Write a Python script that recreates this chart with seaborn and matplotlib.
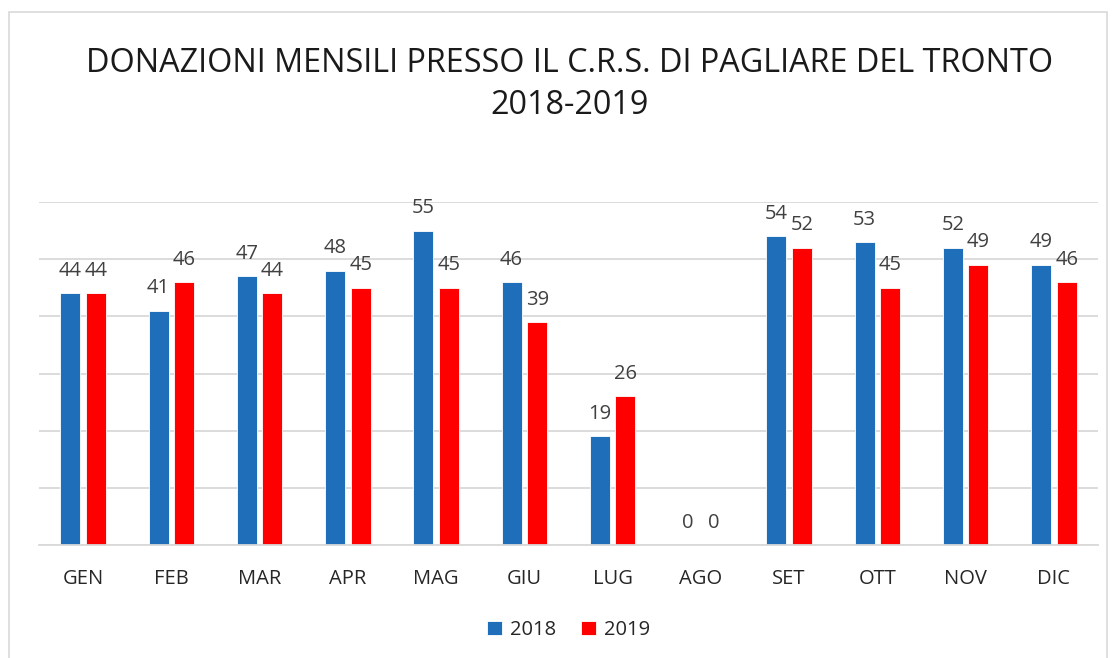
import numpy as np
import pandas as pd
import seaborn as sns
import matplotlib.pyplot as plt
from matplotlib.patches import Rectangle

# monthly donations
mesi = ['GEN', 'FEB', 'MAR', 'APR', 'MAG', 'GIU', 'LUG', 'AGO', 'SET', 'OTT', 'NOV', 'DIC']
don_2018 = [44, 41, 47, 48, 55, 46, 19, 0, 54, 53, 52, 49]
don_2019 = [44, 46, 44, 45, 45, 39, 26, 0, 52, 45, 49, 46]
anni = ['2018', '2019']
colori = ['#1F6EBA', '#FF0000']

df = pd.DataFrame({
    'mese': mesi * 2,
    'anno': [anni[0]] * len(mesi) + [anni[1]] * len(mesi),
    'donazioni': don_2018 + don_2019,
})

sns.set_theme(style='white')
plt.rcParams['font.family'] = ['Open Sans', 'DejaVu Sans']

fig = plt.figure(figsize=(11.13, 6.58), dpi=100)
ax = fig.add_axes([0.035, 0.1717, 0.9515, 0.5213])

sns.barplot(data=df, x='mese', y='donazioni', hue='anno', palette=colori,
            saturation=1, width=0.58, gap=0.22, edgecolor='white', linewidth=0.6,
            ax=ax, legend=True)

for cont in ax.containers:
    ax.bar_label(cont, padding=9, fontsize=14.5, color='#404040', clip_on=False)

ax.set_ylim(0, 60)
ax.set_xlim(-0.5, len(mesi) - 0.5)
ax.set_yticks(np.arange(0, 61, 10))
ax.set_yticklabels([])
ax.tick_params(axis='y', length=0)
ax.tick_params(axis='x', length=0, labelsize=14.5, labelcolor='#262626', pad=17)
ax.yaxis.grid(True, color='#D9D9D9', linewidth=1.3)
ax.set_axisbelow(True)
for s in ['top', 'right', 'left']:
    ax.spines[s].set_visible(False)
ax.spines['bottom'].set_color('#D9D9D9')
ax.spines['bottom'].set_linewidth(1.3)
ax.set_xlabel('')
ax.set_ylabel('')

leg = ax.legend(loc='center', bbox_to_anchor=(0.5, -0.248), ncol=2, frameon=False,
                fontsize=14.5, handlelength=0.75, handleheight=0.75, handletextpad=0.4,
                columnspacing=1.2)
for t in leg.get_texts():
    t.set_color('#262626')

fig.text(0.512, 0.872, 'DONAZIONI MENSILI PRESSO IL C.R.S. DI PAGLIARE DEL TRONTO\n2018-2019',
         ha='center', va='center', fontsize=23.3, color='#1A1A1A', linespacing=1.35)

# light frame around the chart area
fig.patches.append(Rectangle((9 / 1113, -0.01), 1098 / 1113, (658 - 12) / 658 + 0.01,
                             transform=fig.transFigure, fill=False,
                             edgecolor='#D9D9D9', linewidth=1.2))

fig.savefig('out.png', dpi=100)
